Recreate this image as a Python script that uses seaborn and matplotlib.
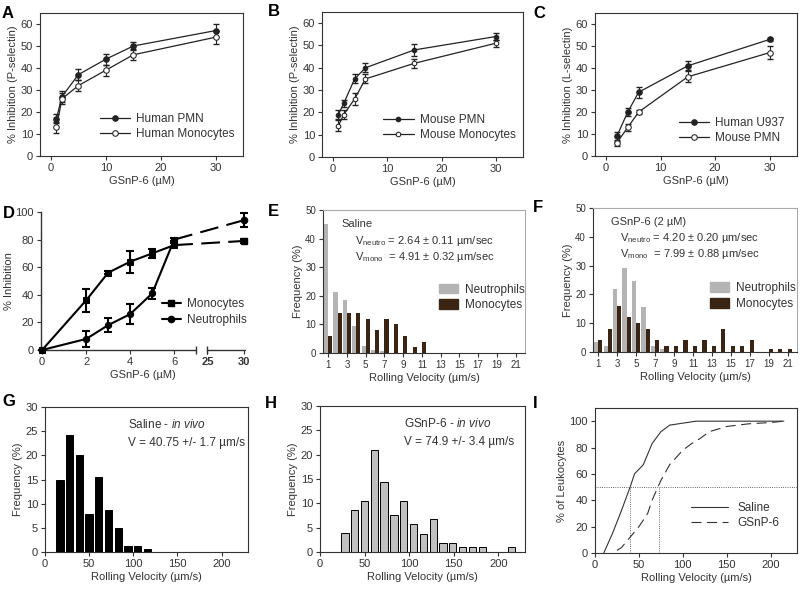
import numpy as np
import pandas as pd
import seaborn as sns
import matplotlib.pyplot as plt
from matplotlib.patches import Patch
from matplotlib.lines import Line2D

# ---- data ----
# A: human cells, P-selectin
a_x = [1, 2, 5, 10, 15, 30]
a_pmn = [17, 27, 37, 44, 50, 57]
a_pmn_err = [2, 2.5, 2.5, 2.5, 2, 3]
a_mono = [13, 26, 32, 39, 46, 54]
a_mono_err = [2.5, 2.5, 2.5, 2.5, 2.5, 3]

# B: mouse cells, P-selectin
b_x = [1, 2, 4, 6, 15, 30]
b_pmn = [19, 24, 35, 40, 48, 54]
b_pmn_err = [2, 1.5, 2, 2, 2.5, 1.5]
b_mono = [14, 19, 26, 35, 42, 51]
b_mono_err = [2.5, 2, 2.5, 2, 2, 1.5]

# C: L-selectin
c_x = [2, 4, 6, 15, 30]
c_u937 = [9, 20, 29, 41, 53]
c_u937_err = [2, 2, 2.5, 2, 0.5]
c_pmn = [6, 13, 20, 36, 47]
c_pmn_err = [1.5, 1.5, 1, 2.5, 3]

# D: broken x axis
d_x = [0, 2, 3, 4, 5, 6, 30]
d_mono = [0, 36, 56, 64, 70, 76, 79]
d_mono_err = [0, 8.5, 1, 8, 3, 1.5, 1.5]
d_neut = [0, 8, 18, 26, 41, 80, 94]
d_neut_err = [0, 6, 5, 7, 4, 1, 5]
d_ticks = [0, 2, 4, 6, 25, 30]

# E / F: rolling velocity histograms in vitro
vel_bins = list(range(1, 22))
e_neut = [45, 21.5, 18.7, 9.5, 2.5, 1.2, 0.7, 0, 0, 0, 0, 0, 0, 0, 0, 0, 0, 0, 0, 0, 0]
e_mono = [6, 14, 14, 14, 12, 8, 12, 10, 6, 2, 4, 0, 0, 0, 0, 0, 0, 0, 0, 0, 0]
f_neut = [3.3, 2.2, 22, 29, 24.5, 15.5, 2.2, 1, 0, 0, 0, 0, 0, 0, 0, 0, 0, 0, 0, 0, 0]
f_mono = [4, 8, 16, 12, 10, 8, 4, 2, 2, 4, 2, 4, 2, 8, 2, 2, 4, 0, 1, 1, 1]

# G / H: in vivo histograms
g_x = [17, 28, 39, 50, 61, 72, 83, 94, 105, 116]
g_freq = [15, 24.3, 20, 7.8, 15.6, 8.6, 5, 1.3, 1.3, 0.7]
h_x = [28, 39, 50, 61, 72, 83, 94, 105, 116, 127, 138, 149, 160, 171, 182, 215]
h_freq = [3.9, 8.7, 10.5, 21, 14.3, 7.7, 10.5, 5.7, 3.8, 6.7, 1.8, 1.8, 1, 1, 1, 1]

# I: cumulative distributions
i_sal_x = [10, 20, 30, 40, 45, 55, 65, 75, 85, 100, 115, 215]
i_sal_y = [0, 15, 32, 50, 60, 67, 83, 92, 97, 98.5, 100, 100]
i_gs_x = [25, 30, 40, 50, 60, 65, 75, 85, 100, 110, 120, 130, 150, 175, 200, 215]
i_gs_y = [2, 4, 12, 20, 30, 40, 55, 67, 78, 83, 87, 92, 96, 98, 99, 100]
i_median_sal = 40
i_median_gs = 73

# ---- style ----
sns.set_style('ticks')
plt.rcParams['font.family'] = ['Liberation Sans', 'DejaVu Sans']
plt.rcParams['mathtext.fontset'] = 'custom'
plt.rcParams['mathtext.rm'] = 'Liberation Sans'
plt.rcParams['mathtext.it'] = 'Liberation Sans:italic'
plt.rcParams['font.size'] = 8
plt.rcParams['xtick.labelsize'] = 8
plt.rcParams['ytick.labelsize'] = 8
plt.rcParams['axes.labelsize'] = 8
plt.rcParams['xtick.major.size'] = 3
plt.rcParams['ytick.major.size'] = 3
plt.rcParams['xtick.major.pad'] = 2
plt.rcParams['ytick.major.pad'] = 2
plt.rcParams['axes.linewidth'] = 0.8
plt.rcParams['text.color'] = '#333333'
plt.rcParams['axes.labelcolor'] = '#333333'
plt.rcParams['xtick.color'] = '#333333'
plt.rcParams['ytick.color'] = '#333333'
plt.rcParams['axes.edgecolor'] = '#333333'

LC = '#222222'
fig = plt.figure(figsize=(8, 5.9), dpi=100)
W, H = 800, 590


def add_ax(l, r, t, b):
    return fig.add_axes([l / W, 1 - b / H, (r - l) / W, (b - t) / H])


def letter(x, y, s):
    fig.text(x / W, 1 - y / H, s, fontsize=12, fontweight='bold', color='black', va='center', ha='left')


def curve_panel(ax, x, y1, e1, y2, e2, lab1, lab2, ylab, leg_pos, ms=4):
    ax.errorbar(x, y1, yerr=e1, fmt='none', ecolor=LC, elinewidth=0.8, capsize=2, zorder=2)
    ax.errorbar(x, y2, yerr=e2, fmt='none', ecolor=LC, elinewidth=0.8, capsize=2, zorder=2)
    sns.lineplot(x=x, y=y1, ax=ax, color=LC, lw=0.9, marker='o', markersize=ms,
                 markerfacecolor=LC, markeredgecolor=LC, label=lab1, zorder=3)
    sns.lineplot(x=x, y=y2, ax=ax, color=LC, lw=0.9, marker='o', markersize=ms,
                 markerfacecolor='white', markeredgecolor=LC, label=lab2, zorder=3)
    ax.set_xlim(-2, 35)
    ax.set_ylim(0, 65)
    ax.set_xticks([0, 10, 20, 30])
    ax.set_yticks(range(0, 61, 10))
    ax.set_xlabel('GSnP-6 (µM)', labelpad=2)
    ax.set_ylabel(ylab, labelpad=2)
    ax.legend(loc='lower left', bbox_to_anchor=leg_pos, frameon=False, fontsize=8.5,
              handlelength=2.6, labelspacing=0.25, borderaxespad=0, handletextpad=0.5)


# A
ax = add_ax(40, 243, 13, 156)
curve_panel(ax, a_x, a_pmn, a_pmn_err, a_mono, a_mono_err, 'Human PMN', 'Human Monocytes',
            '% Inhibition (P-selectin)', (0.27, 0.08))
letter(2, 13, 'A')

# B
ax = add_ax(322, 523, 12, 157)
curve_panel(ax, b_x, b_pmn, b_pmn_err, b_mono, b_mono_err, 'Mouse PMN', 'Mouse Monocytes',
            '% Inhibition (P-selectin)', (0.28, 0.08), ms=3.3)
letter(268, 12, 'B')

# C
ax = add_ax(595, 797, 13, 156)
curve_panel(ax, c_x, c_u937, c_u937_err, c_pmn, c_pmn_err, 'Human U937', 'Mouse PMN',
            '% Inhibition (L-selectin)', (0.39, 0.05))
letter(533, 13, 'C')


# D: broken axis through a function scale
def d_fwd(x):
    x = np.asarray(x, dtype=float)
    return np.where(x <= 7, x, np.where(x >= 25, 7.51 + (x - 25) * 0.328, 7 + (x - 7) * (0.51 / 18)))


def d_inv(u):
    u = np.asarray(u, dtype=float)
    return np.where(u <= 7, u, np.where(u >= 7.51, 25 + (u - 7.51) / 0.328, 7 + (u - 7) * 18 / 0.51))


ax = add_ax(41, 245, 212, 350)
ax.set_xscale('function', functions=(d_fwd, d_inv))
ax.errorbar(d_x, d_mono, yerr=d_mono_err, fmt='none', ecolor='black', elinewidth=1.5, capsize=3,
            capthick=1.5, zorder=2, clip_on=False)
ax.errorbar(d_x, d_neut, yerr=d_neut_err, fmt='none', ecolor='black', elinewidth=1.5, capsize=3,
            capthick=1.5, zorder=2, clip_on=False)
sns.lineplot(x=d_x[:-1], y=d_mono[:-1], ax=ax, color='black', lw=1.5, marker='s', markersize=4.5,
             markeredgecolor='black', clip_on=False, zorder=3)
sns.lineplot(x=d_x[:-1], y=d_neut[:-1], ax=ax, color='black', lw=1.5, marker='o', markersize=4.5,
             markeredgecolor='black', clip_on=False, zorder=3)
ax.plot(d_x[-2:], d_mono[-2:], color='black', lw=1.5, dashes=(9, 4))
ax.plot(d_x[-2:], d_neut[-2:], color='black', lw=1.5, dashes=(9, 4))
ax.plot(d_x[-1], d_mono[-1], marker='s', ms=4.5, color='black', clip_on=False)
ax.plot(d_x[-1], d_neut[-1], marker='o', ms=4.5, color='black', clip_on=False)
ax.set_xlim(-0.05, 30.2)
ax.set_ylim(0, 100)
ax.set_yticks(range(0, 101, 20))
ax.set_xticks(d_ticks)
ax.set_xticklabels([str(t) for t in d_ticks])
for lab in ax.get_xticklabels()[-2:]:
    lab.set_fontweight('bold')
ax.spines['top'].set_visible(False)
ax.spines['right'].set_visible(False)
ax.spines['bottom'].set_visible(False)
ax.spines['left'].set_linewidth(1.0)
xt = ax.get_xaxis_transform()
ax.plot([-0.05, 7], [0, 0], color='#333333', lw=1.0, transform=xt, clip_on=False)
ax.plot([24.8, 30.2], [0, 0], color='#333333', lw=1.0, transform=xt, clip_on=False)
ax.plot([7, 24.8], [0, 0], ls='none', marker='|', ms=6, color='#333333', transform=xt, clip_on=False)
ax.set_xlabel('GSnP-6 (µM)', labelpad=2)
ax.set_ylabel('% Inhibition', labelpad=1)
d_handles = [Line2D([], [], color='black', lw=1.5, marker='s', ms=4.5),
             Line2D([], [], color='black', lw=1.5, marker='o', ms=4.5)]
ax.legend(d_handles, ['Monocytes', 'Neutrophils'], loc='lower left', bbox_to_anchor=(0.57, 0.14),
          frameon=False, fontsize=8.5, handlelength=1.6, labelspacing=0.3, borderaxespad=0, handletextpad=0.5)
letter(3, 213, 'D')

# E / F
pal = {'Neutrophils': '#b4b4b4', 'Monocytes': '#3a2414'}


def hist_panel(ax, neut, mono, title, vn, vm, tx, ty):
    df = pd.DataFrame({
        'bin': vel_bins * 2,
        'freq': neut + mono,
        'cell': ['Neutrophils'] * len(vel_bins) + ['Monocytes'] * len(vel_bins),
    })
    sns.barplot(data=df, x='bin', y='freq', hue='cell', order=vel_bins,
                hue_order=['Neutrophils', 'Monocytes'], palette=pal, width=0.88,
                errorbar=None, ax=ax, legend=False, saturation=1, linewidth=0)
    ax.set_xlim(-0.55, 21.0)
    ax.set_ylim(0, 50)
    ax.set_xticks(range(0, 21, 2))
    ax.set_xticklabels([str(v) for v in vel_bins[::2]])
    ax.set_yticks(range(0, 51, 10))
    ax.tick_params(labelsize=7)
    ax.set_xlabel('Rolling Velocity (µm/s)', labelpad=2)
    ax.set_ylabel('Frequency (%)', labelpad=2)
    for s in ['top', 'right']:
        ax.spines[s].set_color('#aaaaaa')
    ax.text(0.09, 0.9, title, transform=ax.transAxes, fontsize=8, va='center')
    ax.text(tx, ty, 'V$_{\\mathrm{neutro}}$ = ' + vn, transform=ax.transAxes, fontsize=8, va='center')
    ax.text(tx, ty - 0.11, 'V$_{\\mathrm{mono}}$  = ' + vm, transform=ax.transAxes, fontsize=8, va='center')
    handles = [Patch(color=pal['Neutrophils']), Patch(color=pal['Monocytes'])]
    ax.legend(handles, ['Neutrophils', 'Monocytes'], loc='lower left', bbox_to_anchor=(0.55, 0.26),
              frameon=False, fontsize=8.5, handlelength=1.6, handleheight=0.9, labelspacing=0.3,
              borderaxespad=0, handletextpad=0.6)


ax = add_ax(323, 525, 210, 353)
hist_panel(ax, e_neut, e_mono, 'Saline', '2.64 ± 0.11 µm/sec', '4.91 ± 0.32 µm/sec', 0.16, 0.78)
letter(268, 212, 'E')

ax = add_ax(593, 797, 208, 352)
hist_panel(ax, f_neut, f_mono, 'GSnP-6 (2 µM)', '4.20 ± 0.20 µm/sec', '7.99 ± 0.88 µm/sec', 0.13, 0.79)
letter(533, 208, 'F')


# G / H
def vivo_panel(ax, x, freq, color, title, vtext):
    sns.barplot(x=x, y=freq, native_scale=True, color=color, edgecolor='black', linewidth=0.7,
                width=0.75, errorbar=None, ax=ax, saturation=1)
    ax.set_xlim(0, 230)
    ax.set_ylim(0, 30)
    ax.set_xticks([0, 50, 100, 150, 200])
    ax.set_xticklabels(['0', '50', '100', '150', '200'])
    ax.set_yticks(range(0, 31, 5))
    ax.set_xlabel('Rolling Velocity (µm/s)', labelpad=2)
    ax.set_ylabel('Frequency (%)', labelpad=2)
    ax.text(0.41, 0.88, title, transform=ax.transAxes, fontsize=8.5, va='center')
    ax.text(0.41, 0.75, vtext, transform=ax.transAxes, fontsize=8.5, va='center')


ax = add_ax(45, 248, 407, 552)
vivo_panel(ax, g_x, g_freq, 'black', 'Saline - $\\mathit{in\\ vivo}$', 'V = 40.75 +/- 1.7 µm/s')
letter(2, 402, 'G')

ax = add_ax(320, 525, 406, 552)
vivo_panel(ax, h_x, h_freq, '#c0c0c0', 'GSnP-6 - $\\mathit{in\\ vivo}$', 'V = 74.9 +/- 3.4 µm/s')
letter(265, 403, 'H')

# I
ax = add_ax(595, 797, 408, 553)
sns.lineplot(x=i_sal_x, y=i_sal_y, ax=ax, color='#333333', lw=0.8, label='Saline')
sns.lineplot(x=i_gs_x, y=i_gs_y, ax=ax, color='#333333', lw=0.8, dashes=False, label='GSnP-6')
ax.get_lines()[1].set_dashes((9, 5))
ax.axhline(50, color='#333333', lw=0.6, ls=':')
ax.plot([i_median_sal, i_median_sal], [0, 50], color='#333333', lw=0.6, ls=':')
ax.plot([i_median_gs, i_median_gs], [0, 50], color='#333333', lw=0.6, ls=':')
ax.set_xlim(0, 230)
ax.set_ylim(0, 110)
ax.set_xticks([0, 50, 100, 150, 200])
ax.set_yticks(range(0, 101, 20))
ax.set_xlabel('Rolling Velocity (µm/s)', labelpad=2)
ax.set_ylabel('% of Leukocytes', labelpad=2)
leg = ax.legend(loc='lower left', bbox_to_anchor=(0.45, 0.13), frameon=False, fontsize=8.5,
                handlelength=3.2, labelspacing=0.3, borderaxespad=0, handletextpad=0.8)
leg.get_lines()[1].set_dashes((9, 5))
letter(533, 403, 'I')

fig.savefig('out.png', dpi=100)
